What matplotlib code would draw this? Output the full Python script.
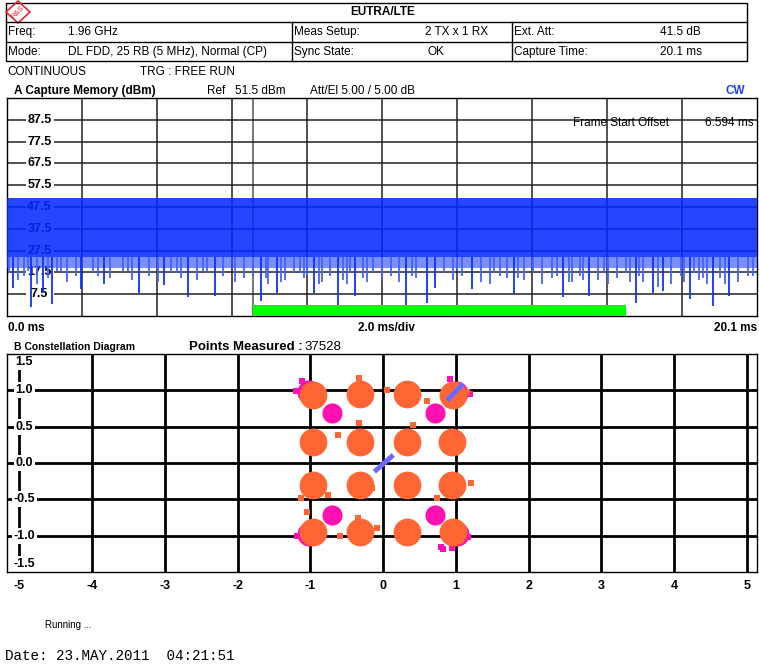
import matplotlib
matplotlib.use("Agg")
import matplotlib.pyplot as plt
from matplotlib.patches import Polygon, Rectangle

W, H = 759, 665
plt.rcParams["font.family"] = ["Liberation Sans", "DejaVu Sans"]

# --- header values
HEADER_TITLE = "EUTRA/LTE"
ROW1 = ["Freq:", "1.96 GHz", "Meas Setup:", "2 TX x 1 RX", "Ext. Att:", "41.5 dB"]
ROW2 = ["Mode:", "DL FDD, 25 RB (5 MHz), Normal (CP)", "Sync State:", "OK",
        "Capture Time:", "20.1 ms"]

# --- capture memory (dBm vs ms)
capture_time = 20.1
ref_level = 51.5
frame_start = 6.594
frame_len = 10.0
y_ticks = [87.5, 77.5, 67.5, 57.5, 47.5, 37.5, 27.5, 17.5, 7.5]
band_core = 24.5      # lower edge of the solid part of the trace
band_fringe = 19.5    # lower edge of the mixed blue/white part

deep_t = [0.17, 0.64, 0.97, 1.2, 1.98, 2.6, 3.55, 4.2, 4.85, 5.57, 6.8, 7.23,
          8.23, 8.87, 9.33, 10.7, 11.26, 11.47, 12.46, 13.6, 14.9, 15.6, 16.86,
          17.3, 17.58, 18.3, 18.92, 19.35]
deep_low = [10.4, 1.6, 8.0, 3.0, 10.0, 12.0, 8.0, 11.5, 6.0, 6.7, 4.4, 8.0,
            8.0, 2.1, 6.7, 0.7, 3.5, 10.4, 10.0, 7.6, 6.0, 6.7, 3.5, 8.0,
            9.0, 5.3, 2.0, 6.7]
mid_t = [0.05, 0.3, 0.45, 0.8, 1.1, 1.35, 1.6, 1.85, 2.3, 2.75, 3.1, 3.35,
         3.8, 4.05, 4.4, 4.65, 5.1, 5.35, 5.8, 6.1, 6.35, 6.6, 7.0, 7.45,
         7.7, 7.95, 8.45, 8.65, 9.1, 9.55, 9.8, 10.05, 10.3, 10.5, 10.95, 11.7,
         11.95, 12.2, 12.7, 12.95, 13.2, 13.4, 13.85, 14.1, 14.35, 14.6, 15.15,
         15.35, 15.85, 16.1, 16.35, 16.6, 17.05, 17.8, 18.05, 18.55, 18.75,
         19.1, 19.6, 19.85,
         0.55, 1.45, 2.45, 3.25, 4.55, 5.25, 6.95, 7.35, 7.85, 8.05, 8.35,
         9.0, 9.2, 9.65, 10.85, 12.05, 13.05, 13.7, 14.75, 15.05, 15.45,
         16.0, 16.7, 16.95, 17.45, 18.15, 18.4, 18.65, 19.25, 20.0]
mid_low = [17, 14, 16, 12, 15, 18, 13, 16, 17, 15, 18, 14,
           16, 13, 17, 15, 14, 17, 16, 13, 15, 16, 12, 14,
           17, 15, 13, 16, 12, 15, 17, 14, 16, 13, 15, 17,
           14, 16, 13, 12, 16, 15, 14, 17, 12, 15, 13,
           16, 14, 12, 15, 17, 13, 12, 16, 14, 12,
           15, 13, 16,
           18, 17, 16, 18, 17, 18, 15, 13, 17, 16, 12,
           14, 17, 13, 16, 18, 17, 15, 16, 13, 14,
           17, 13, 16, 11, 13, 17, 15, 12, 16]

# --- constellation
qam_i = [-0.96, -0.32, 0.33, 0.96, -0.96, -0.32, 0.33, 0.95,
         -0.96, -0.32, 0.33, 0.95, -0.96, -0.32, 0.33, 0.96]
qam_q = [0.94, 0.95, 0.95, 0.93, 0.29, 0.29, 0.29, 0.29,
         -0.30, -0.30, -0.30, -0.30, -0.95, -0.95, -0.95, -0.95]
qpsk_i = [-0.70, 0.72, -0.70, 0.72]
qpsk_q = [0.69, 0.69, -0.71, -0.71]
rs_i = [-1.02, 1.00, -1.02, 1.02]
rs_q = [0.98, 0.96, -0.98, -0.98]
out_i = [-0.33, 0.61, 0.41, -0.33, 1.21, 0.74, -1.05, -0.34, -0.08, -0.59,
         -1.13, -0.76, 0.05, -0.62, 0.2, 1.15, -0.15]
out_q = [1.17, 0.86, 0.52, 0.55, -0.27, -0.48, -0.67, -0.75, -0.89, -1.0,
         -0.48, -0.44, 1.0, 0.38, -0.98, 0.98, -0.35]
mag_out_i = [-1.11, 0.92, 0.83, 0.95, 0.80, 1.17, -1.18, -1.2, 1.19]
mag_out_q = [1.13, 1.16, -1.19, -1.17, -1.15, -1.02, -1.0, 0.99, 0.95]
sync_i = [[-0.12, 0.14], [0.88, 1.10]]
sync_q = [[-0.12, 0.11], [0.86, 1.09]]
points_measured = 37528

fig = plt.figure(figsize=(W / 100, H / 100), dpi=100)


def box(x0, y0, x1, y1):
    # pixel box -> figure fraction
    return [x0 / W, 1 - y1 / H, (x1 - x0) / W, (y1 - y0) / H]


# Canvas for header / footer text
cv = fig.add_axes([0, 0, 1, 1])
cv.set_xlim(0, W)
cv.set_ylim(H, 0)
cv.axis("off")

cv.add_patch(Rectangle((6, 3), 741, 58, fill=False, lw=1, ec="black"))
cv.plot([6, 747], [22, 22], color="black", lw=1)
cv.plot([6, 747], [42, 42], color="black", lw=1)
for xv in [292, 512]:
    cv.plot([xv, xv], [22, 61], color="black", lw=1)
cv.add_patch(Polygon([[18, 1], [30, 12], [18, 23], [6, 12]], closed=True,
                     fill=False, ec="#e0282e", lw=1.2))
cv.text(18, 12, "R&S", color="#e0282e", fontsize=5.5, ha="center",
        va="center", rotation=45)
cv.text(383, 12, HEADER_TITLE, fontsize=8.5, fontweight="bold", ha="center",
        va="center")
xs = [8, 68, 294, 425, 514, 660]
for i, s in enumerate(ROW1):
    cv.text(xs[i], 32, s, fontsize=8.5, va="center")
xs2 = [8, 68, 294, 427, 514, 660]
for i, s in enumerate(ROW2):
    cv.text(xs2[i], 52, s, fontsize=8.5, va="center")

cv.text(7, 72, "CONTINUOUS", fontsize=8.5, va="center")
cv.text(140, 72, "TRG : FREE RUN", fontsize=8.5, va="center")
cv.text(14, 91, "A Capture Memory (dBm)", fontsize=8.5, fontweight="bold",
        va="center")
cv.text(207, 91, f"Ref   {ref_level} dBm", fontsize=8.5, va="center")
cv.text(310, 91, "Att/El 5.00 / 5.00 dB", fontsize=8.5, va="center")
cv.text(745, 91, "CW", fontsize=8.5, fontweight="bold", color="#2040ff",
        ha="right", va="center")

cv.text(8, 328, "0.0 ms", fontsize=8.5, fontweight="bold", va="center")
cv.text(386, 328, "2.0 ms/div", fontsize=8.5, fontweight="bold", ha="center",
        va="center")
cv.text(757, 328, f"{capture_time} ms", fontsize=8.5, fontweight="bold",
        ha="right", va="center")
cv.text(14, 347, "B Constellation Diagram", fontsize=7.5, fontweight="bold",
        va="center")
cv.text(189, 347, "Points Measured :", fontsize=9.5, fontweight="bold",
        va="center")
cv.text(304, 347, str(points_measured), fontsize=9.5, va="center")
cv.text(45, 625, "Running ...", fontsize=7, va="center")
cv.text(5, 656, "Date: 23.MAY.2011  04:21:51", fontsize=10.3,
        family="Liberation Mono", va="center")

# --- A: capture memory
ax = fig.add_axes(box(7, 98, 757, 316))
ax.set_xlim(0, capture_time)
ax.set_ylim(-2.5, 97.5)
ax.set_xticks([])
ax.set_yticks([])
for sp in ax.spines.values():
    sp.set_linewidth(1)
div = capture_time / 10
for k in range(1, 10):
    ax.axvline(k * div, color="#222222", lw=1.1, zorder=1)
ax.axvline(frame_start, color="#555555", lw=1.1, zorder=1)
for v in y_ticks:
    ax.hlines(v, 0, 0.5, color="#222222", lw=1.1, zorder=1)
    ax.hlines(v, 1.25, capture_time, color="#222222", lw=1.1, zorder=1)
    ax.text(0.87, v, f"{v}", fontsize=9, fontweight="bold", ha="center",
            va="center", zorder=2)

ax.fill_between([0, capture_time], band_fringe, band_core, color="#2a4cff",
                alpha=0.62, lw=0, zorder=3)
ax.fill_between([0, capture_time], band_core, ref_level, color="#0028ff",
                alpha=0.86, lw=0, zorder=3)
ax.vlines(mid_t, mid_low, band_core, color="#4862ff", lw=1.3, zorder=3)
ax.vlines(deep_t, deep_low, band_core, color="#1030ff", lw=1.3, zorder=4)
ax.fill_between([frame_start, frame_start + frame_len], -2.5, 2.6,
                color="#00ff00", lw=0, zorder=5)
ax.text(0.755, 0.885, "Frame Start Offset", transform=ax.transAxes,
        fontsize=8.5, ha="left", va="center", zorder=6)
ax.text(0.995, 0.885, f"{frame_start} ms", transform=ax.transAxes,
        fontsize=8.5, ha="right", va="center", zorder=6)

# --- B: constellation diagram
bx = fig.add_axes(box(7, 354, 757, 572))
bx.set_xlim(-5.17, 5.14)
bx.set_ylim(-1.5, 1.5)
bx.set_yticks([])
bx.set_xticks(range(-5, 6))
bx.set_xticklabels([str(v) for v in range(-5, 6)], fontsize=9,
                   fontweight="bold")
bx.tick_params(axis="x", length=0, pad=6)
for sp in bx.spines.values():
    sp.set_linewidth(1)
for v in range(-5, 6):
    bx.axvline(v, color="black", lw=2, zorder=1)
for v in [-1.0, -0.5, 0.0, 0.5, 1.0]:
    bx.axhline(v, color="black", lw=2, zorder=1)
for v in [1.5, 1.0, 0.5, 0.0, -0.5, -1.0, -1.5]:
    va = "top" if v == 1.5 else ("bottom" if v == -1.5 else "center")
    yv = v - 0.03 if v == 1.5 else (v + 0.03 if v == -1.5 else v)
    bx.text(-4.93, yv, f"{v:.1f}", fontsize=9, fontweight="bold", ha="center",
            va=va, zorder=2,
            bbox=dict(boxstyle="square,pad=0.15", fc="white", ec="none"))

bx.scatter(rs_i, rs_q, s=300, color="#ff10b0", lw=0, zorder=3)
bx.scatter(mag_out_i, mag_out_q, s=14, marker="s", color="#ff10b0", lw=0,
           zorder=3)
bx.scatter(qpsk_i, qpsk_q, s=210, color="#ff10b0", lw=0, zorder=3)
bx.scatter(qam_i, qam_q, s=400, color="#ff6633", lw=0, zorder=4)
bx.scatter(out_i, out_q, s=14, marker="s", color="#ff6633", lw=0, zorder=4)
for si, sq in zip(sync_i, sync_q):
    bx.plot(si, sq, color="#6a6aff", lw=3.5, solid_capstyle="butt", zorder=5)

fig.savefig("out.png", dpi=100)
